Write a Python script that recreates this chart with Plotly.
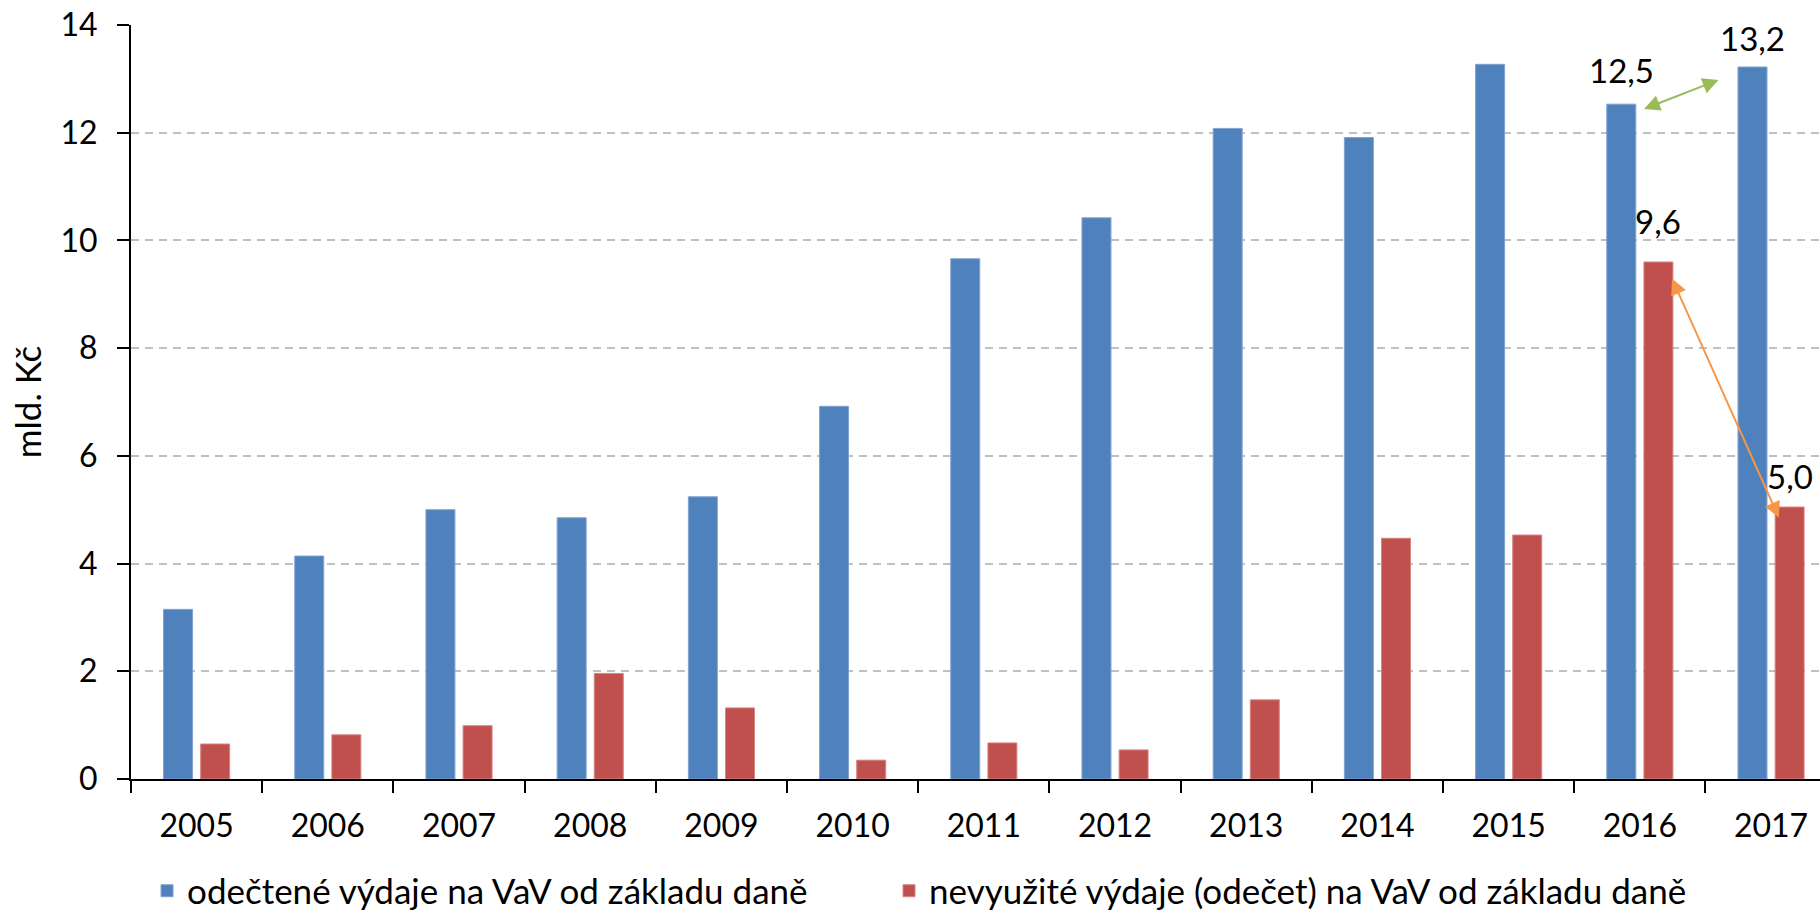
import plotly.graph_objects as go

years = ["2005", "2006", "2007", "2008", "2009", "2010", "2011", "2012", "2013", "2014", "2015", "2016", "2017"]
deducted = [3.15, 4.14, 5.00, 4.85, 5.24, 6.92, 9.66, 10.42, 12.08, 11.91, 13.27, 12.53, 13.22]
unused = [0.65, 0.82, 0.99, 1.96, 1.32, 0.35, 0.67, 0.54, 1.47, 4.47, 4.53, 9.60, 5.05]
name_deducted = "odečtené výdaje na VaV od základu daně"
name_unused = "nevyužité výdaje (odečet) na VaV od základu daně"
y_ticks = [0, 2, 4, 6, 8, 10, 12, 14]

FONT = "Lato"
BLUE = "#4F81BD"
RED = "#C0504D"

fig = go.Figure()
fig.add_trace(go.Bar(
    x=years, y=deducted, name=name_deducted, legend="legend",
    marker=dict(color=BLUE, line=dict(color="#7FA3D3", width=1)),
    width=0.221, offset=-0.252,
))
fig.add_trace(go.Bar(
    x=years, y=unused, name=name_unused, legend="legend2",
    marker=dict(color=RED, line=dict(color="#D98583", width=1)),
    width=0.221, offset=0.031,
))

# value labels (text, x position, y position)
labels = [
    ("12,5", 11 - 0.141, 13.17),
    ("13,2", 12 - 0.141, 13.75),
    ("9,6", 11 + 0.141, 10.37),
    ("5,0", 12 + 0.141, 5.63),
]
for txt, xv, ypos in labels:
    fig.add_annotation(x=xv, y=ypos, text=txt, showarrow=False,
                       xref="x", yref="y", font=dict(family=FONT, size=33, color="black"))

# arrows
fig.add_annotation(x=11.60, y=12.98, ax=11.02, ay=12.43, xref="x", yref="y", axref="x", ayref="y",
                   text="", showarrow=True, arrowhead=2, startarrowhead=2, arrowside="end+start",
                   arrowsize=1.6, startarrowsize=1.6, arrowwidth=2, arrowcolor="#9BBB59",
                   standoff=0, startstandoff=0)
fig.add_annotation(x=12.06, y=4.85, ax=11.24, ay=9.32, xref="x", yref="y", axref="x", ayref="y",
                   text="", showarrow=True, arrowhead=2, startarrowhead=2, arrowside="end+start",
                   arrowsize=1.6, startarrowsize=1.6, arrowwidth=2, arrowcolor="#F79646",
                   standoff=0, startstandoff=0)

legend_common = dict(orientation="h", y=-0.1485, xanchor="left", yanchor="middle",
                     font=dict(family=FONT, size=35), itemwidth=30, bgcolor="rgba(0,0,0,0)")

fig.update_layout(
    width=1820, height=913,
    margin=dict(l=131, r=0, t=25, b=134, autoexpand=False),
    paper_bgcolor="white", plot_bgcolor="white",
    font=dict(family=FONT, size=32, color="black"),
    barmode="overlay",
    showlegend=True,
    legend=dict(x=0.0095, **legend_common),
    legend2=dict(x=0.4488, **legend_common),
    xaxis=dict(
        type="category", range=[-0.5, 12.373], automargin=False,
        showline=True, linecolor="black", linewidth=2,
        ticks="outside", ticklen=12, tickwidth=2, tickcolor="black",
        tickson="boundaries", showgrid=False,
        ticklabelstandoff=18,
        tickfont=dict(family=FONT, size=32),
    ),
    yaxis=dict(
        range=[0, 14], tickvals=y_ticks, ticktext=[str(v) for v in y_ticks], automargin=False,
        showline=True, linecolor="black", linewidth=2,
        ticks="outside", ticklen=12, tickwidth=2, tickcolor="black",
        showgrid=True, gridcolor="#C0C0C0", gridwidth=1.5, griddash="8px,6px",
        zeroline=False, ticklabelstandoff=13, ticklabeloverflow="allow",
        tickfont=dict(family=FONT, size=32),
        title=dict(text="mld. Kč", font=dict(family=FONT, size=35), standoff=8),
    ),
)

fig.write_html("out.html", config={"displayModeBar": False},
               post_script="document.body.style.margin='0px';")
